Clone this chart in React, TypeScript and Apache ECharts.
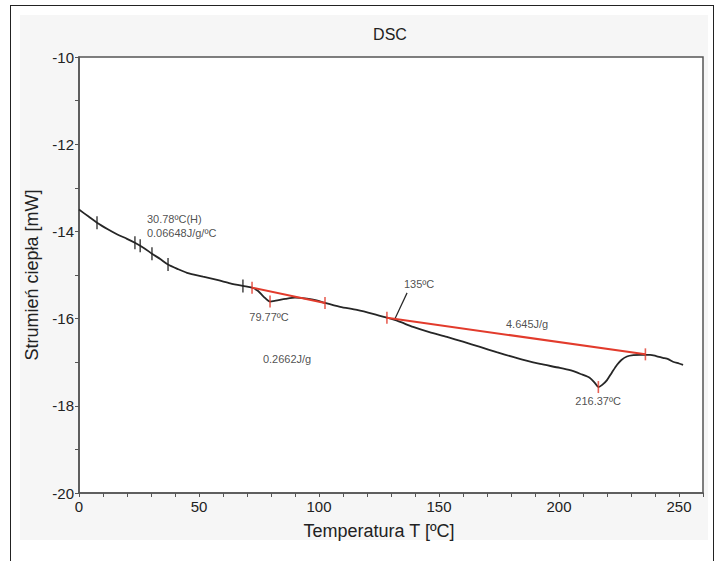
import React, { useEffect, useRef } from "react";
import * as echarts from "echarts";

// Temperature [°C] and heat flow [mW] of the DSC curve
const temperature = [
  0, 4, 7.5, 12, 16, 20, 23.3, 27, 30.4, 34, 37.1, 41, 45, 51.7, 58, 63, 68.3,
  72.1, 74.5, 77, 79.6, 82, 86, 90, 95, 99, 102.5, 108.8, 115.8, 122.5, 128.3,
  133, 139.2, 146, 153.3, 160, 167.1, 174, 180.8, 186, 192.1, 200.4, 205, 209,
  212.9, 215, 216.4, 218, 220, 222, 224.2, 226, 228.3, 231, 233.8, 238, 240.5,
  243.3, 245.5, 247.5, 250, 251.7,
];
const heatFlow = [
  -13.5, -13.66, -13.8, -13.95, -14.07, -14.17, -14.26, -14.38, -14.51, -14.64,
  -14.76, -14.86, -14.95, -15.04, -15.12, -15.19, -15.25, -15.29, -15.36, -15.5,
  -15.61, -15.59, -15.55, -15.52, -15.54, -15.58, -15.64, -15.73, -15.8, -15.89,
  -15.98, -16.06, -16.19, -16.31, -16.42, -16.53, -16.65, -16.77, -16.88, -16.96,
  -17.04, -17.13, -17.19, -17.27, -17.36, -17.48, -17.57, -17.52, -17.41, -17.24,
  -17.06, -16.95, -16.87, -16.84, -16.83, -16.83, -16.86, -16.9, -16.93, -16.99,
  -17.03, -17.06,
];

// Black analysis markers (glass transition region)
const blackTickT = [7.5, 23.3, 25.5, 30.4, 37.1, 68.3];
const blackTickV = [-13.8, -14.26, -14.33, -14.51, -14.76, -15.25];

// Red analysis markers (peak limits and peak maxima)
const redTickT = [72.1, 79.6, 102.5, 128.3, 216.4, 236];
const redTickV = [-15.29, -15.61, -15.64, -15.98, -17.57, -16.82];

// Integration baselines
const baseline1T = [72.1, 102.5];
const baseline1V = [-15.29, -15.64];
const baseline2T = [128.3, 236];
const baseline2V = [-15.98, -16.82];

// Leader line of the 135ºC annotation
const leaderT = [131.7, 136.7];
const leaderV = [-16.0, -15.41];

// Annotations
const annotationText = [
  "30.78ºC(H)",
  "0.06648J/g/ºC",
  "79.77ºC",
  "0.2662J/g",
  "135ºC",
  "4.645J/g",
  "216.37ºC",
];
const annotationT = [28.3, 28.3, 79.2, 86.7, 141.7, 186.7, 216.3];
const annotationV = [-13.71, -14.03, -15.96, -16.92, -15.2, -16.12, -17.89];
const annotationAlign = ["left", "left", "center", "center", "center", "center", "center"];

const xTickLabels = [0, 50, 100, 150, 200, 250];
const yTickLabels = [-10, -12, -14, -16, -18, -20];

const FONT = "'Liberation Sans', Arial, Helvetica, sans-serif";
const RED = "#e23b2c";

const zip = (a: number[], b: number[]) => a.map((v, i) => [v, b[i]]);

export default function App() {
  const ref = useRef<HTMLDivElement>(null);
  useEffect(() => {
    if (!ref.current) return;
    const chart = echarts.init(ref.current, undefined, { renderer: "svg" });
    chart.setOption({
      animation: false,
      backgroundColor: "transparent",
      textStyle: { fontFamily: FONT },
      title: {
        text: "DSC",
        left: 385,
        top: 21,
        textAlign: "center",
        textStyle: { fontFamily: FONT, fontSize: 16, fontWeight: "normal", color: "#222" },
      },
      grid: {
        left: 79,
        top: 57,
        right: 18,
        bottom: 68,
        show: true,
        backgroundColor: "#ffffff",
        borderColor: "#555",
        borderWidth: 1.5,
      },
      xAxis: {
        type: "value",
        min: 0,
        max: 260,
        interval: 10,
        name: "Temperatura T [ºC]",
        nameLocation: "middle",
        nameGap: 29,
        nameTextStyle: { fontFamily: FONT, fontSize: 18, color: "#222", padding: [0, 24, 0, 0] },
        axisLine: { onZero: false, lineStyle: { color: "#555", width: 1.5 } },
        axisTick: { show: true, length: 4, lineStyle: { color: "#555" } },
        axisLabel: {
          fontFamily: FONT,
          fontSize: 15,
          color: "#222",
          margin: 6,
          formatter: (v: number) => (xTickLabels.includes(v) ? String(v) : ""),
        },
        splitLine: { show: false },
      },
      yAxis: {
        type: "value",
        min: -20,
        max: -10,
        interval: 1,
        name: "Strumień ciepła [mW]",
        nameLocation: "middle",
        nameGap: 35,
        nameTextStyle: { fontFamily: FONT, fontSize: 18, color: "#222" },
        axisLine: { onZero: false, lineStyle: { color: "#555", width: 1.5 } },
        axisTick: { show: true, length: 4, lineStyle: { color: "#555" } },
        axisLabel: {
          fontFamily: FONT,
          fontSize: 15,
          color: "#222",
          margin: 5,
          formatter: (v: number) => (yTickLabels.includes(v) ? String(v) : ""),
        },
        splitLine: { show: false },
      },
      series: [
        {
          type: "line",
          name: "DSC",
          data: zip(temperature, heatFlow),
          showSymbol: false,
          smooth: 0.25,
          lineStyle: { color: "#262626", width: 1.8 },
          z: 3,
        },
        {
          type: "line",
          data: zip(baseline1T, baseline1V),
          showSymbol: false,
          lineStyle: { color: RED, width: 2 },
          z: 4,
        },
        {
          type: "line",
          data: zip(baseline2T, baseline2V),
          showSymbol: false,
          lineStyle: { color: RED, width: 2 },
          z: 4,
        },
        {
          type: "line",
          data: zip(leaderT, leaderV),
          showSymbol: false,
          lineStyle: { color: "#262626", width: 1.2 },
          z: 3,
        },
        {
          type: "scatter",
          data: zip(blackTickT, blackTickV),
          symbol: "rect",
          symbolSize: [1.6, 13],
          itemStyle: { color: "#262626" },
          z: 5,
        },
        {
          type: "scatter",
          data: zip(redTickT, redTickV),
          symbol: "rect",
          symbolSize: [1.6, 12],
          itemStyle: { color: RED },
          z: 6,
        },
        {
          type: "scatter",
          symbolSize: 0,
          data: annotationText.map((t, i) => ({
            name: t,
            value: [annotationT[i], annotationV[i]],
            label: { align: annotationAlign[i] },
          })),
          label: {
            show: true,
            position: "inside",
            formatter: "{b}",
            fontFamily: FONT,
            fontSize: 11,
            color: "#222",
          },
          z: 7,
        },
      ],
    });
    return () => chart.dispose();
  }, []);

  return (
    <div style={{ position: "fixed", left: 0, top: 0, width: 721, height: 561, background: "#fff", overflow: "hidden" }}>
      <div
        style={{
          position: "absolute",
          left: 10,
          top: 5,
          width: 704,
          height: 620,
          border: "1px solid #222",
          boxSizing: "border-box",
        }}
      />
      <div style={{ position: "absolute", left: 20, top: 15, width: 688, height: 525, background: "#f6f6f6" }} />
      <div ref={ref} style={{ position: "absolute", left: 0, top: 0, width: 721, height: 561 }} />
    </div>
  );
}
